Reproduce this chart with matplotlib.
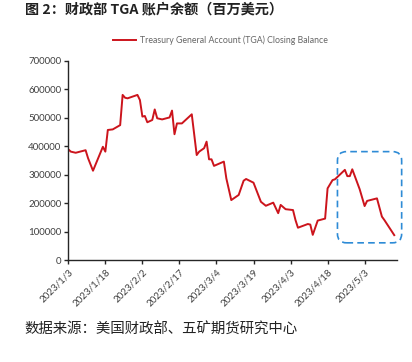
# TGA closing balance chart

import numpy as np
import pandas as pd
import matplotlib
matplotlib.use("Agg")
import matplotlib.pyplot as plt
import matplotlib.dates as mdates
from matplotlib.patches import FancyBboxPatch
from matplotlib.transforms import IdentityTransform

# Data (millions of USD)
dates = ["2023-01-03", "2023-01-04", "2023-01-06", "2023-01-10", "2023-01-11",
         "2023-01-13", "2023-01-17", "2023-01-18", "2023-01-19", "2023-01-21",
         "2023-01-24", "2023-01-25", "2023-01-26", "2023-01-27", "2023-01-31",
         "2023-02-01", "2023-02-02", "2023-02-03", "2023-02-04", "2023-02-06",
         "2023-02-07", "2023-02-08", "2023-02-10", "2023-02-13", "2023-02-14",
         "2023-02-15", "2023-02-16", "2023-02-18", "2023-02-22", "2023-02-24",
         "2023-02-25", "2023-02-27", "2023-02-28", "2023-03-01", "2023-03-02",
         "2023-03-03", "2023-03-07", "2023-03-08", "2023-03-10", "2023-03-13",
         "2023-03-15", "2023-03-16", "2023-03-19", "2023-03-22", "2023-03-24",
         "2023-03-27", "2023-03-29", "2023-03-30", "2023-04-01", "2023-04-04",
         "2023-04-05", "2023-04-06", "2023-04-10", "2023-04-11", "2023-04-12",
         "2023-04-14", "2023-04-17", "2023-04-18", "2023-04-20", "2023-04-21",
         "2023-04-25", "2023-04-26", "2023-04-27", "2023-04-28", "2023-05-01",
         "2023-05-03", "2023-05-04", "2023-05-08", "2023-05-10", "2023-05-11",
         "2023-05-15"]
balance = [390000, 382000, 378000, 387000, 359000,
           315000, 399000, 382000, 458000, 460000,
           475000, 581000, 571000, 569000, 581000,
           563000, 505000, 507000, 485000, 493000,
           530000, 499000, 495000, 502000, 526000,
           443000, 481000, 481000, 513000, 370000,
           382000, 394000, 417000, 355000, 355000,
           332000, 347000, 288000, 212000, 230000,
           280000, 286000, 273000, 206000, 192000,
           203000, 166000, 195000, 180000, 177000,
           142000, 115000, 128000, 126000, 90000,
           140000, 147000, 253000, 282000, 285000,
           318000, 296000, 296000, 320000, 250000,
           191000, 209000, 218000, 154000, 142000,
           89000]

tick_dates = pd.date_range("2023-01-03", periods=9, freq="15D")
tick_labels = [f"{d.year}/{d.month}/{d.day}" for d in tick_dates]
y_ticks = [0, 100000, 200000, 300000, 400000, 500000, 600000, 700000]

# highlighted window (dashed box)
box_start, box_end = "2023-04-22", "2023-05-18"
box_low, box_high = 62000, 382000

title = "图 2：财政部 TGA 账户余额（百万美元）"
source = "数据来源：美国财政部、五矿期货研究中心"
legend_label = "Treasury General Account (TGA) Closing Balance"

plt.rcParams['font.family'] = ['Lato', 'DejaVu Sans']

fig = plt.figure(figsize=(4.12, 3.62), dpi=100)
ax = fig.add_axes([0.1658, 0.2804, 0.7971, 0.5511])

x = pd.to_datetime(dates)
line, = ax.plot(x, balance, color="#CC141C", lw=1.4, label=legend_label)

ax.set_xlim(pd.Timestamp("2023-01-03"), pd.Timestamp("2023-05-16"))
ax.set_ylim(0, 700000)
ax.set_yticks(y_ticks)
ax.set_yticklabels([str(v) for v in y_ticks])
ax.set_xticks(tick_dates)
ax.set_xticklabels(tick_labels, rotation=45, ha="right", rotation_mode="anchor")

for s in ["top", "right"]:
    ax.spines[s].set_visible(False)
for s in ["left", "bottom"]:
    ax.spines[s].set_color("#262626")
    ax.spines[s].set_linewidth(1.0)
ax.tick_params(axis="both", direction="out", length=3, width=1.0, color="#262626",
               labelsize=7, labelcolor="#404040", pad=2)

# legend above the plot
fig.legend(handles=[line], loc="center", bbox_to_anchor=(0.535, 0.8895),
           frameon=False, fontsize=6.3, labelcolor="#666666",
           handlelength=2.6, handletextpad=0.4)

# dashed rounded box over the last weeks
fig.canvas.draw()
x0, y0 = ax.transData.transform((mdates.date2num(pd.Timestamp(box_start)), box_low))
x1, y1 = ax.transData.transform((mdates.date2num(pd.Timestamp(box_end)), box_high))
box = FancyBboxPatch((x0, y0), x1 - x0, y1 - y0,
                     boxstyle="round,pad=0,rounding_size=9",
                     transform=IdentityTransform(), fill=False,
                     edgecolor="#2E8BD6", lw=1.2, ls=(0, (4, 2.5)),
                     clip_on=False)
fig.patches.append(box)

fig.text(0.06, 0.972, title, family=['Noto Sans CJK SC', 'DejaVu Sans'],
         fontsize=10.2, fontweight="bold", color="#222222", va="center")
fig.text(0.06, 0.088, source, family=['Noto Sans CJK SC', 'DejaVu Sans'],
         fontsize=10.4, color="#222222", va="center")

fig.savefig("out.png", dpi=100)
